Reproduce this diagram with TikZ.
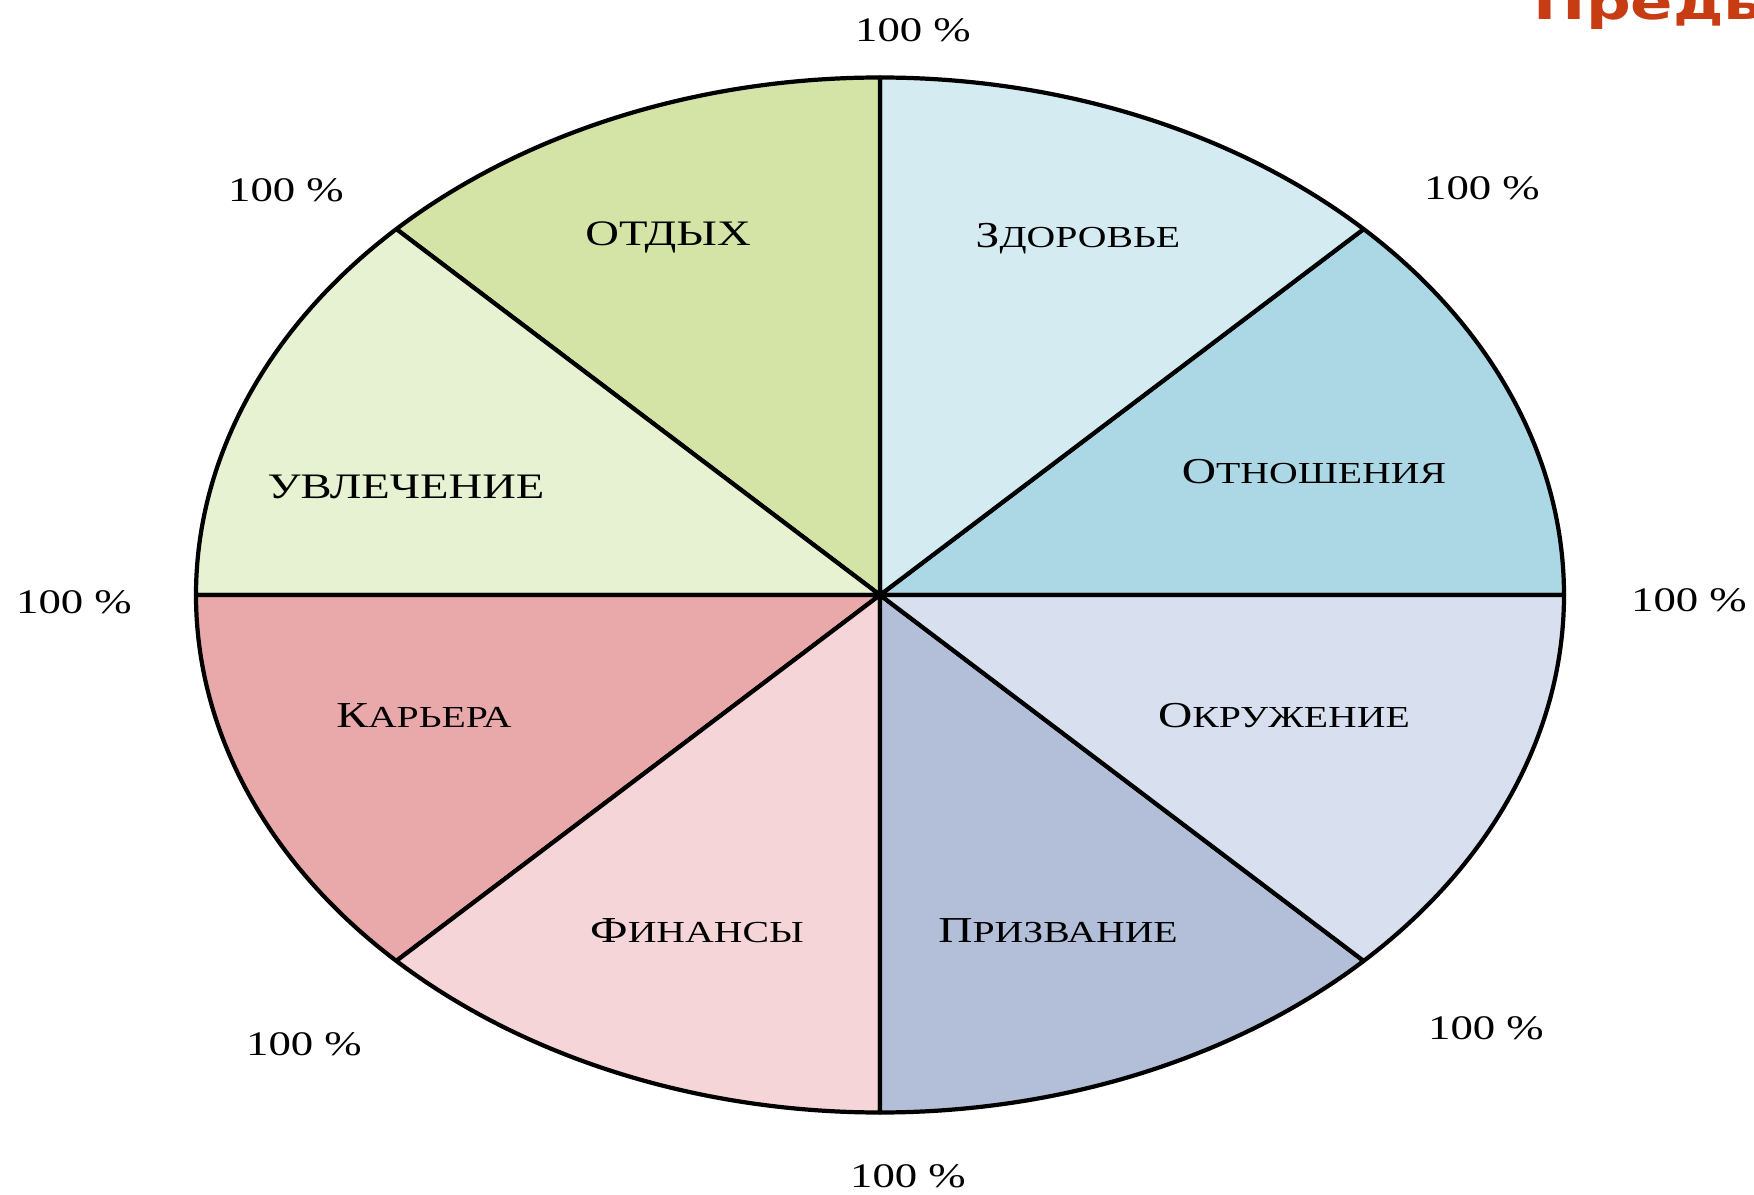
\documentclass[tikz,border=0pt]{standalone}
\usepackage{fontspec}
\setmainfont{Liberation Serif}[FakeStretch=1.3]
\newfontfamily\headfont{DejaVu Sans}[FakeStretch=1.3]
\usepackage{tikz}

\definecolor{otnosh}{HTML}{ACD7E5}
\definecolor{zdorov}{HTML}{D5EBF2}
\definecolor{otdyh}{HTML}{D4E4A6}
\definecolor{uvlech}{HTML}{E7F2D3}
\definecolor{karera}{HTML}{E9A9AA}
\definecolor{finans}{HTML}{F5D5D8}
\definecolor{prizv}{HTML}{B3BED9}
\definecolor{okruzh}{HTML}{D8DFEE}
\definecolor{headred}{RGB}{200,60,20}

% first letter large, the rest as small capitals
\newcommand{\capsword}[2]{{\fontsize{10.4}{12}\selectfont #1}{\fontsize{8.7}{10}\selectfont #2}}

\tikzset{
    sector/.style={draw=black, line width=1.2pt, line join=round},
    pct/.style={font=\fontsize{9.8}{11}\selectfont, inner sep=0pt},
    area/.style={font=\fontsize{10.2}{12}\selectfont, inner sep=0pt},
}

\begin{document}
\begin{tikzpicture}
    \useasboundingbox (0,0) rectangle (17.54,11.94);
    \clip (0,0) rectangle (17.54,11.94);
    \coordinate (c) at (8.80,5.99);
    % the eight sectors of the wheel
    \foreach \a/\col in {0/otnosh, 45/zdorov, 90/otdyh, 135/uvlech, 180/karera, 225/finans, 270/prizv, 315/okruzh} {
        \draw[sector, fill=\col] (c) -- ++({6.84*cos(\a)},{5.175*sin(\a)})
            arc[start angle=\a, delta angle=45, x radius=6.84, y radius=5.175] -- cycle;
    };

    % names of the sectors
    \node[area] (otdyh-l) at (6.68,9.57) {ОТДЫХ};
    \node[area] (zdorov-l) at (10.78,9.55) {\capsword{З}{ДОРОВЬЕ}};
    \node[area] (otnosh-l) at (13.14,7.22) {\capsword{О}{ТНОШЕНИЯ}};
    \node[area] (uvlech-l) at (4.06,7.07) {УВЛЕЧЕНИЕ};
    \node[area] (karera-l) at (4.24,4.78) {\capsword{К}{АРЬЕРА}};
    \node[area] (okruzh-l) at (12.84,4.78) {\capsword{О}{КРУЖЕНИЕ}};
    \node[area] (finans-l) at (6.97,2.63) {\capsword{Ф}{ИНАНСЫ}};
    \node[area] (prizv-l) at (10.58,2.63) {\capsword{П}{РИЗВАНИЕ}};

    % percentages round the rim
    \node[pct] (p-n) at (9.13,11.64) {100 \%};
    \node[pct] (p-nw) at (2.86,10.04) {100 \%};
    \node[pct] (p-ne) at (14.82,10.06) {100 \%};
    \node[pct] (p-w) at (0.74,5.92) {100 \%};
    \node[pct] (p-e) at (16.89,5.94) {100 \%};
    \node[pct] (p-sw) at (3.04,1.50) {100 \%};
    \node[pct] (p-se) at (14.86,1.66) {100 \%};
    \node[pct] (p-s) at (9.08,0.18) {100 \%};

    \node[anchor=base west, inner sep=0pt, text=headred,
        font=\headfont\bfseries\fontsize{13.7}{16}\selectfont] (head) at (15.33,11.74) {Предь};
\end{tikzpicture}
\end{document}
